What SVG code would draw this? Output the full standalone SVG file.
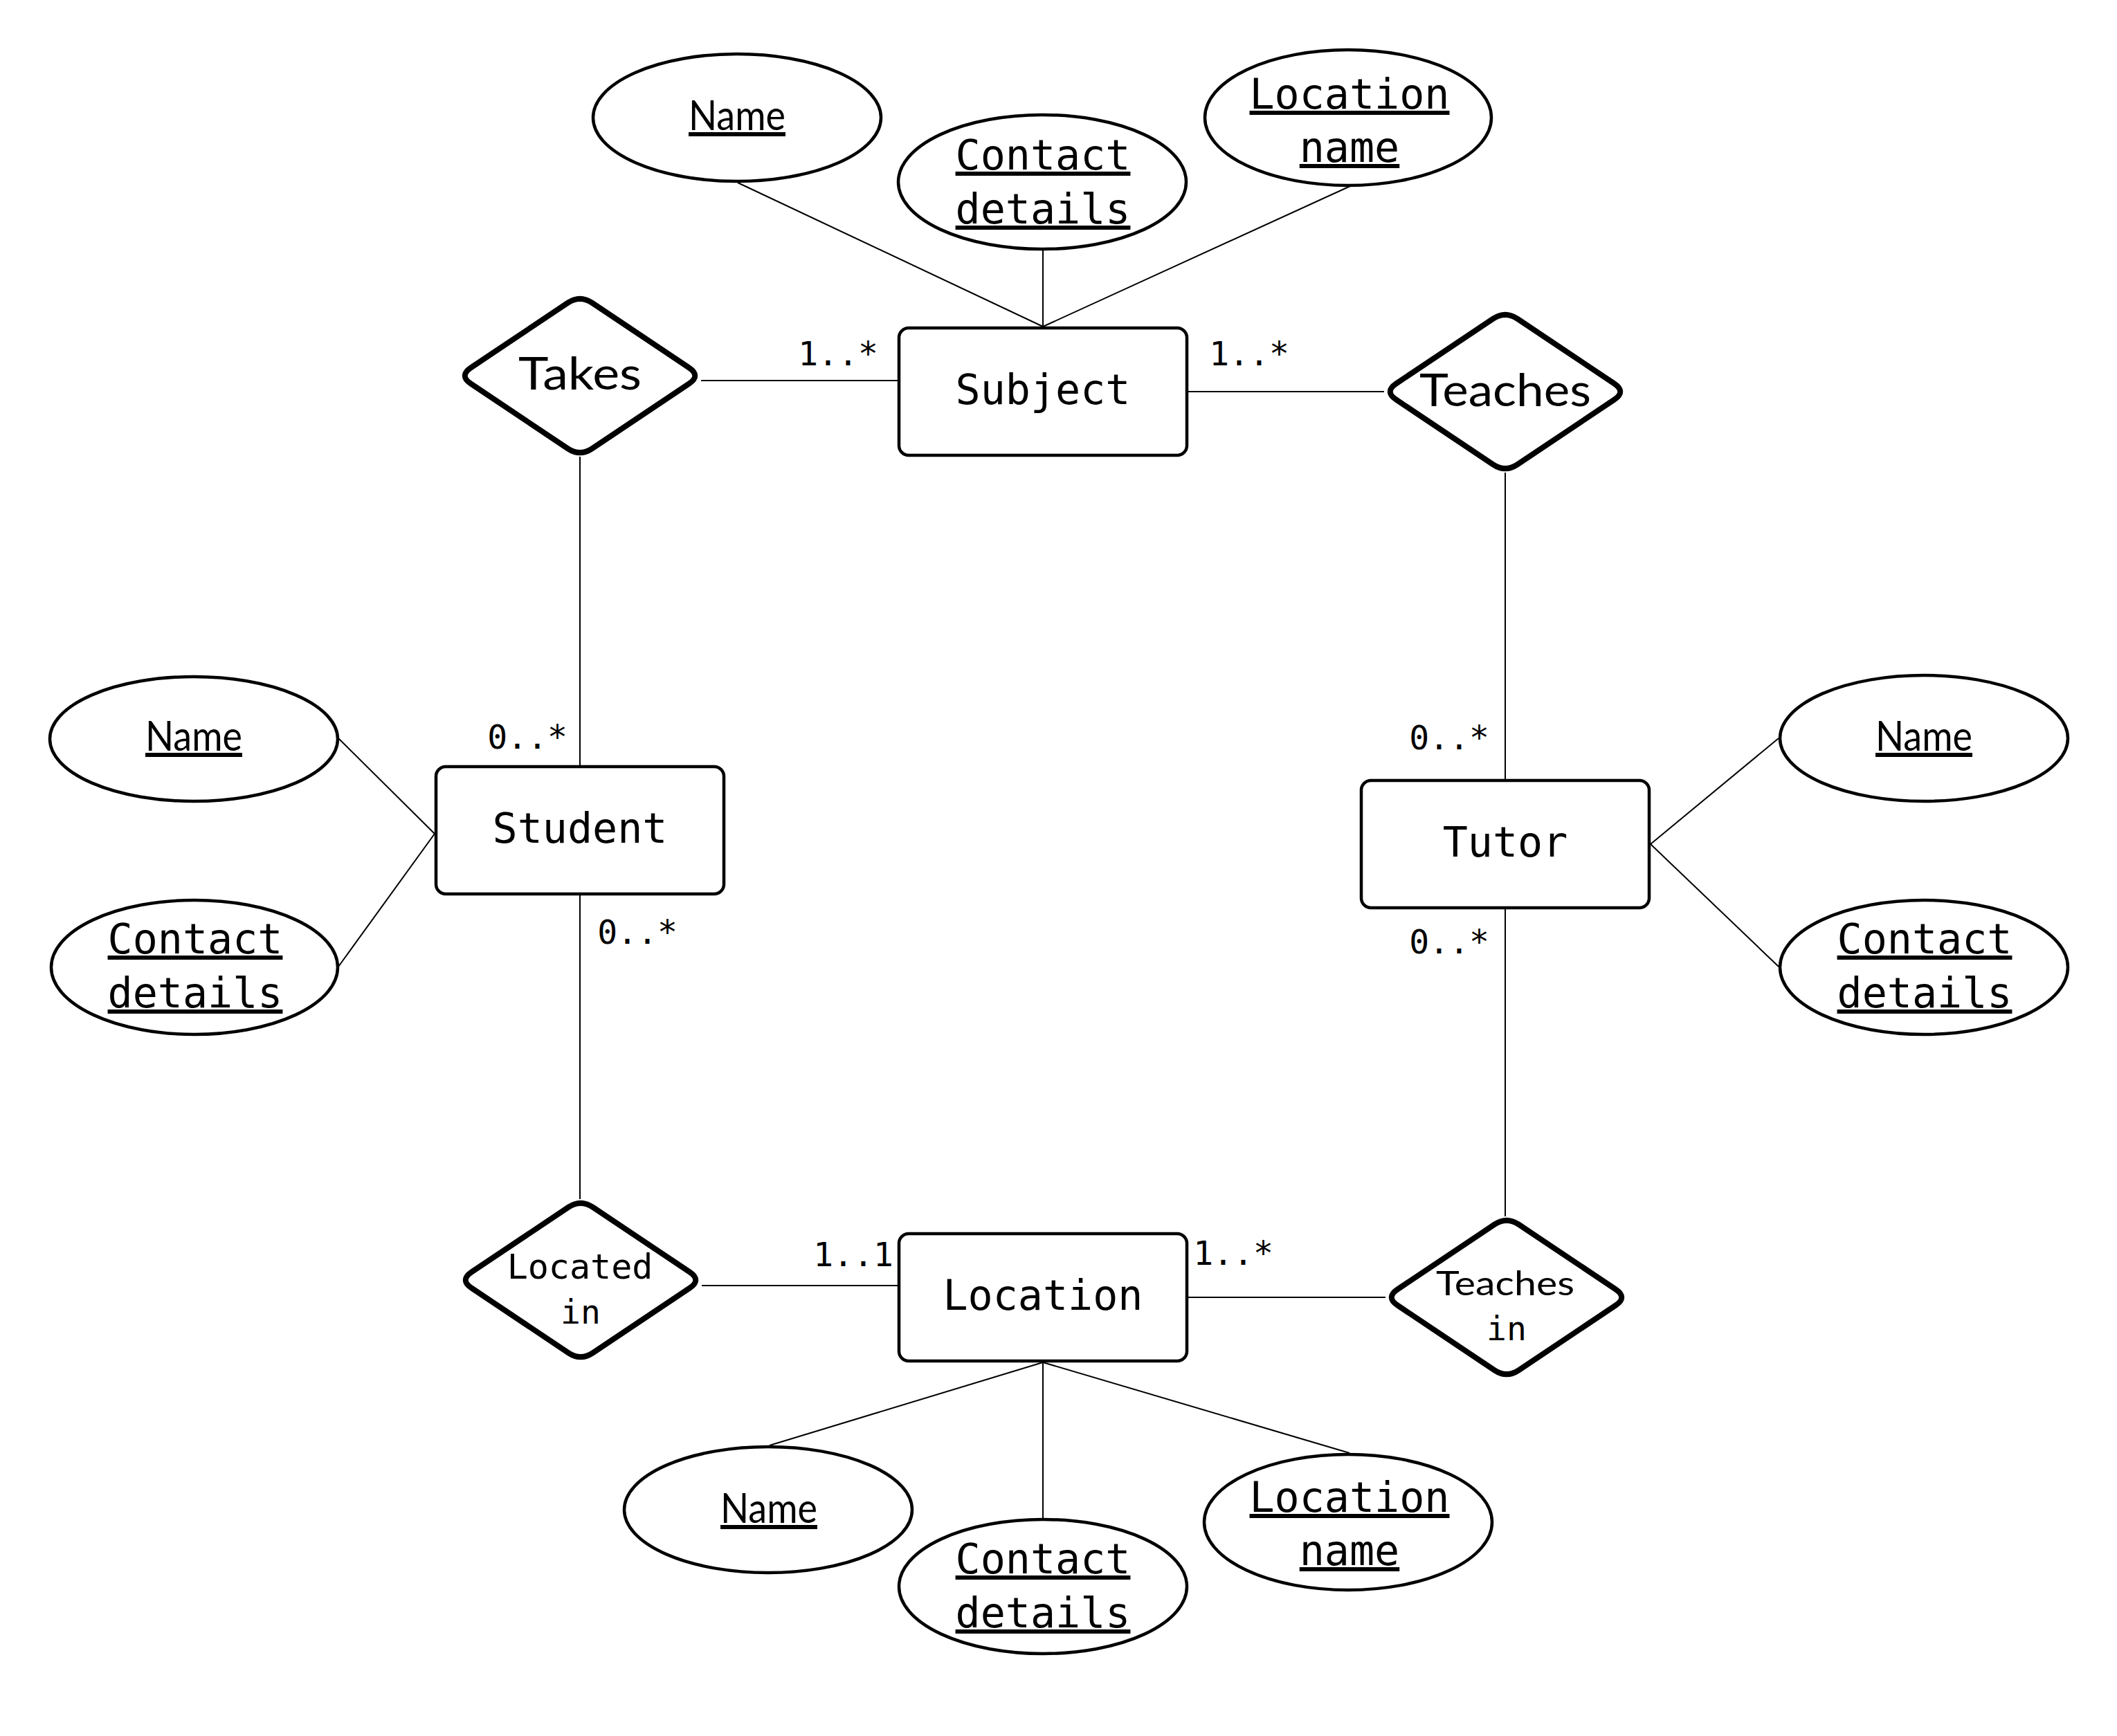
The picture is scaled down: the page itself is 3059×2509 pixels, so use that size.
<svg xmlns="http://www.w3.org/2000/svg" xmlns:xlink="http://www.w3.org/1999/xlink" width="3059" height="2509" viewBox="0 0 3059 2509">
<style>
.ent{fill:#fff;stroke:#000;stroke-width:4.5}
.att{fill:#fff;stroke:#000;stroke-width:4.5}
.rel{fill:#fff;stroke:#000;stroke-width:8;stroke-linejoin:round}
.con line{stroke:#000;stroke-width:2}
.mono{font-family:"DejaVu Sans Mono","Liberation Mono",monospace;fill:#000;text-anchor:middle}
.hum{font-family:Lato,"Open Sans","Noto Sans",sans-serif;fill:#000;text-anchor:middle}
.big{font-size:60px}
.mul{font-size:48px}
.u{text-decoration:underline}
</style>
<defs>
<path id="dia" d="M17.5,-105.3 L157.5,-11.7 Q175,0 157.5,11.7 L17.5,105.3 Q0,117 -17.5,105.3 L-157.5,11.7 Q-175,0 -157.5,-11.7 L-17.5,-105.3 Q0,-117 17.5,-105.3 Z"/>
</defs>
<rect width="3059" height="2509" fill="#fff"/>
<g class="con" id="connectors">
<line x1="1013" y1="550" x2="1299" y2="550"/>
<line x1="838" y1="660" x2="838" y2="1108"/>
<line x1="1715" y1="566" x2="2000" y2="566"/>
<line x1="2175" y1="683" x2="2175" y2="1128"/>
<line x1="2175" y1="1312" x2="2175" y2="1758"/>
<line x1="838" y1="1292" x2="838" y2="1733"/>
<line x1="1014" y1="1858" x2="1299" y2="1858"/>
<line x1="1715" y1="1875" x2="2002" y2="1875"/>
<line x1="1507" y1="472" x2="1066" y2="264"/>
<line x1="1507" y1="472" x2="1507" y2="362"/>
<line x1="1507" y1="472" x2="1951" y2="269"/>
<line x1="1507" y1="1969" x2="1112" y2="2089"/>
<line x1="1507" y1="1969" x2="1507" y2="2194"/>
<line x1="1507" y1="1969" x2="1950" y2="2100"/>
<line x1="628" y1="1205" x2="489" y2="1067"/>
<line x1="628" y1="1205" x2="489" y2="1397"/>
<line x1="2385" y1="1220" x2="2570" y2="1067"/>
<line x1="2385" y1="1220" x2="2570" y2="1397"/>
</g>
<g id="multiplicities" class="mono mul">
<text x="1211" y="528">1..*</text>
<text x="1805" y="528">1..*</text>
<text x="762" y="1082">0..*</text>
<text x="921" y="1364">0..*</text>
<text x="2094" y="1083">0..*</text>
<text x="2094" y="1378">0..*</text>
<text x="1233" y="1830">1..1</text>
<text x="1782" y="1828">1..*</text>
</g>
<g id="subject"><rect class="ent" x="1299" y="474" width="416" height="184" rx="14"/><text class="mono big" x="1507" y="584">Subject</text></g>
<g id="student"><rect class="ent" x="630" y="1108" width="416" height="184" rx="14"/><text class="mono big" x="838" y="1218">Student</text></g>
<g id="tutor"><rect class="ent" x="1967" y="1128" width="416" height="184" rx="14"/><text class="mono big" x="2175" y="1238">Tutor</text></g>
<g id="location"><rect class="ent" x="1299" y="1783" width="416" height="184" rx="14"/><text class="mono big" x="1507" y="1893">Location</text></g>
<g id="takes"><use xlink:href="#dia" class="rel" transform="translate(838,543)"/><text class="hum" font-size="65" x="838" y="563" textLength="178" lengthAdjust="spacingAndGlyphs">Takes</text></g>
<g id="teaches"><use xlink:href="#dia" class="rel" transform="translate(2175,566)"/><text class="hum" font-size="65" x="2175" y="587" textLength="248" lengthAdjust="spacingAndGlyphs">Teaches</text></g>
<g id="located-in"><use xlink:href="#dia" class="rel" transform="translate(839,1850)"/><text class="mono" font-size="50" x="838" y="1848">Located</text><text class="mono" font-size="48" x="839" y="1913">in</text></g>
<g id="teaches-in"><use xlink:href="#dia" class="rel" transform="translate(2177,1875)"/><text class="hum" font-size="48" x="2175" y="1872" textLength="200" lengthAdjust="spacingAndGlyphs">Teaches</text><text class="mono" font-size="48" x="2177" y="1937">in</text></g>
<g id="subject-name"><ellipse class="att" cx="1065" cy="170" rx="208" ry="92"/><text class="hum u" font-size="60" x="1065" y="188" textLength="140" lengthAdjust="spacingAndGlyphs">Name</text></g>
<g id="subject-contact"><ellipse class="att" cx="1506" cy="263" rx="208" ry="97"/><text class="mono big u" x="1507" y="245">Contact</text><text class="mono big u" x="1507" y="323">details</text></g>
<g id="subject-locname"><ellipse class="att" cx="1948" cy="170" rx="207" ry="98"/><text class="mono big u" x="1950" y="157">Location</text><text class="mono big u" x="1950" y="234">name</text></g>
<g id="student-name"><ellipse class="att" cx="280" cy="1068" rx="208" ry="90"/><text class="hum u" font-size="60" x="280" y="1085" textLength="140" lengthAdjust="spacingAndGlyphs">Name</text></g>
<g id="student-contact"><ellipse class="att" cx="281" cy="1398" rx="207" ry="97"/><text class="mono big u" x="282" y="1378">Contact</text><text class="mono big u" x="282" y="1456">details</text></g>
<g id="tutor-name"><ellipse class="att" cx="2780" cy="1067" rx="208" ry="91"/><text class="hum u" font-size="60" x="2780" y="1085" textLength="140" lengthAdjust="spacingAndGlyphs">Name</text></g>
<g id="tutor-contact"><ellipse class="att" cx="2780" cy="1398" rx="208" ry="97"/><text class="mono big u" x="2781" y="1378">Contact</text><text class="mono big u" x="2781" y="1456">details</text></g>
<g id="location-name"><ellipse class="att" cx="1110" cy="2182" rx="208" ry="91"/><text class="hum u" font-size="60" x="1111" y="2201" textLength="140" lengthAdjust="spacingAndGlyphs">Name</text></g>
<g id="location-contact"><ellipse class="att" cx="1507" cy="2293" rx="208" ry="97"/><text class="mono big u" x="1507" y="2274">Contact</text><text class="mono big u" x="1507" y="2352">details</text></g>
<g id="location-locname"><ellipse class="att" cx="1948" cy="2200" rx="208" ry="98"/><text class="mono big u" x="1950" y="2185">Location</text><text class="mono big u" x="1950" y="2262">name</text></g>
</svg>
